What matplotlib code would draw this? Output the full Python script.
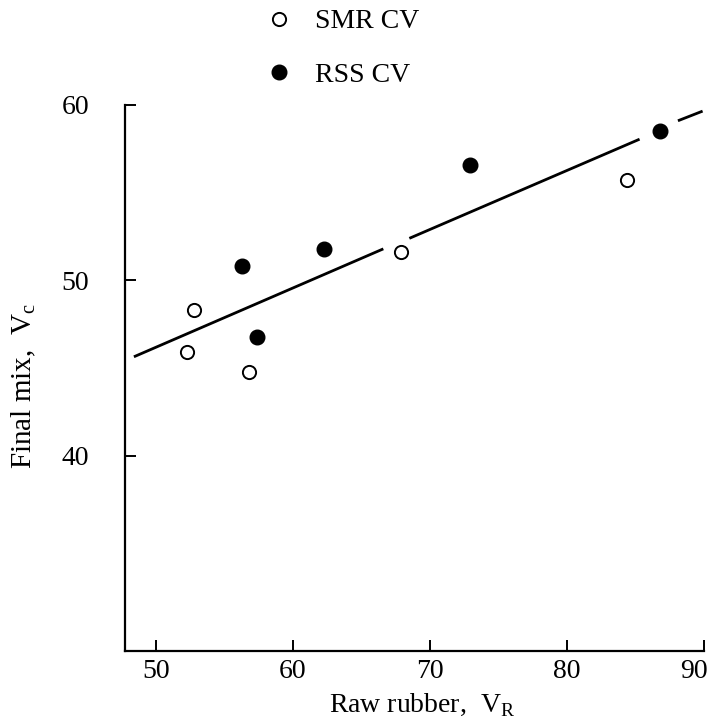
import matplotlib
matplotlib.use('Agg')
import matplotlib.pyplot as plt
import matplotlib.transforms as mtransforms

plt.rcParams['font.family'] = ['Liberation Serif', 'DejaVu Serif']
plt.rcParams['mathtext.fontset'] = 'custom'
plt.rcParams['mathtext.rm'] = 'Liberation Serif'

# Mooney viscosity: raw rubber vs final mix
smr_raw = [52.3, 52.8, 56.8, 67.9, 84.4]
smr_mix = [45.9, 48.3, 44.8, 51.6, 55.7]

rss_raw = [56.3, 57.4, 62.3, 72.9, 86.8]
rss_mix = [50.8, 46.8, 51.8, 56.6, 58.5]

# regression line, broken where it passes the markers
fit_x = [[48.4, 66.6], [68.5, 85.3], [88.1, 89.9]]
fit_y = [[45.65, 51.8], [52.4, 58.05], [59.1, 59.65]]

x_ticks = [50, 60, 70, 80, 90]
y_ticks = [40, 50, 60]

fig = plt.figure(figsize=(7.16, 7.23), dpi=100)
ax = fig.add_axes([0.1746, 0.100, 0.8086, 0.7548])

for xs, ys in zip(fit_x, fit_y):
        ax.plot(xs, ys, color='black', linewidth=2.0, solid_capstyle='butt')

smr, = ax.plot(smr_raw, smr_mix, linestyle='none', marker='o', markersize=9.5,
               markerfacecolor='white', markeredgecolor='black', markeredgewidth=1.4,
               label='SMR CV')
rss, = ax.plot(rss_raw, rss_mix, linestyle='none', marker='o', markersize=10.5,
               markerfacecolor='black', markeredgecolor='black', label='RSS CV')

ax.set_xlim(47.75, 90)
ax.set_ylim(28.9, 60)
ax.set_xticks(x_ticks)
ax.set_yticks(y_ticks)

ax.spines['top'].set_visible(False)
ax.spines['right'].set_visible(False)
ax.spines['left'].set_linewidth(1.6)
ax.spines['bottom'].set_linewidth(1.6)

ax.tick_params(axis='both', direction='in', length=8, width=1.4, labelsize=20)
ax.tick_params(axis='x', pad=6)
ax.tick_params(axis='y', pad=26)

# last x label sits a little left of its tick so it stays on the page
last = ax.get_xticklabels()[-1]
last.set_transform(last.get_transform() +
                   mtransforms.ScaledTranslation(-7 / 72, 0, fig.dpi_scale_trans))

ax.set_xlabel('Raw rubber,  V$_\\mathrm{R}$', fontsize=20)
ax.set_ylabel('Final mix,  V$_\\mathrm{c}$', fontsize=21)
ax.xaxis.set_label_coords(0.513, -0.075)
ax.yaxis.set_label_coords(-0.150, 0.485)

fig.legend(handles=[smr, rss], loc='upper left', bbox_to_anchor=(0.370, 0.9876),
           frameon=False, fontsize=20, handlelength=1.0, handletextpad=0.8,
           labelspacing=1.0, borderpad=0, borderaxespad=0)

plt.savefig('out.png', dpi=100)
